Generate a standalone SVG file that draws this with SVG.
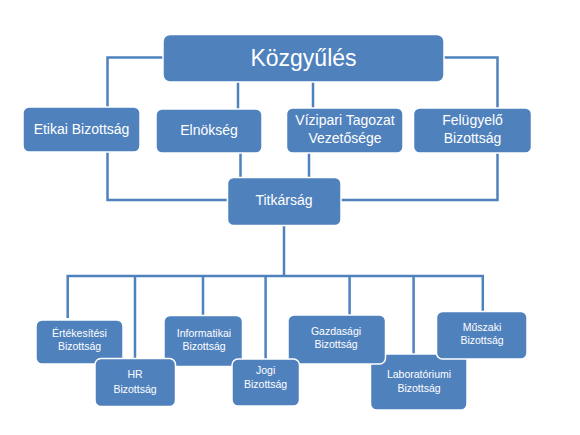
<svg xmlns="http://www.w3.org/2000/svg" width="580" height="435" viewBox="0 0 580 435">
<style>
.box{fill:#4F81BD;stroke:#FFFFFF;stroke-width:1.5}
.t{fill:#FFFFFF;font-family:"Liberation Sans",Arial,sans-serif;text-anchor:middle}
.big{font-size:23px}
.mid{font-size:14px}
.sm{font-size:10.5px}
.c{fill:none;stroke:#4F81BD;stroke-width:2.5}
</style>
<rect width="580" height="435" fill="#FFFFFF"/>
<g id="connectors">
<path class="c" d="M163,57.5 H107.5 V107"/>
<path class="c" d="M444,57.5 H497.5 V108"/>
<path class="c" d="M238,82 V109"/>
<path class="c" d="M313,82 V108"/>
<path class="c" d="M107.5,152 V200 H228"/>
<path class="c" d="M497.5,153 V200 H341"/>
<path class="c" d="M240.5,153 V178"/>
<path class="c" d="M309,153 V178"/>
<path class="c" d="M284,225 V276"/>
<path class="c" d="M67.7,318 V276 H482.8 V311"/>
<path class="c" d="M135,276 V359"/>
<path class="c" d="M203,276 V316"/>
<path class="c" d="M265.6,276 V359"/>
<path class="c" d="M349.6,276 V315"/>
<path class="c" d="M413.6,276 V355"/>
</g>
<g id="kozgyules"><rect class="box" x="163" y="34.5" width="281" height="47.5" rx="7"/><text class="t big" x="303.5" y="66">Közgyűlés</text></g>
<g id="etikai"><rect class="box" x="23" y="107" width="117" height="45" rx="6"/><text class="t mid" x="81.5" y="134">Etikai Bizottság</text></g>
<g id="elnokseg"><rect class="box" x="156" y="109" width="106" height="44" rx="6"/><text class="t mid" x="209" y="135">Elnökség</text></g>
<g id="vizipari"><rect class="box" x="286.5" y="108" width="116.5" height="45" rx="6"/><text class="t mid" x="345" y="125">Vízipari Tagozat</text><text class="t mid" x="345" y="143">Vezetősége</text></g>
<g id="felugyelo"><rect class="box" x="413.5" y="108" width="118" height="45" rx="6"/><text class="t mid" x="472.5" y="125">Felügyelő</text><text class="t mid" x="472.5" y="143">Bizottság</text></g>
<g id="titkarsag"><rect class="box" x="227.5" y="177.5" width="113.5" height="48" rx="6"/><text class="t mid" x="284" y="205">Titkárság</text></g>
<g id="ertekesitesi"><rect class="box" x="36" y="320" width="87" height="44" rx="6"/><text class="t sm" x="79.5" y="337">Értékesítési</text><text class="t sm" x="79.5" y="350">Bizottság</text></g>
<g id="informatikai"><rect class="box" x="164" y="315.5" width="78.5" height="51" rx="6"/><text class="t sm" x="204" y="337">Informatikai</text><text class="t sm" x="204" y="350">Bizottság</text></g>
<g id="hr"><rect class="box" x="95" y="358.5" width="80.5" height="48" rx="6"/><text class="t sm" x="135" y="378">HR</text><text class="t sm" x="135" y="392.5">Bizottság</text></g>
<g id="laboratoriumi"><rect class="box" x="370.5" y="354" width="96.5" height="56" rx="6"/><text class="t sm" x="419" y="378">Laboratóriumi</text><text class="t sm" x="419" y="391.5">Bizottság</text></g>
<g id="gazdasagi"><rect class="box" x="288" y="315" width="97.5" height="49" rx="6"/><text class="t sm" x="336" y="335">Gazdasági</text><text class="t sm" x="336" y="347.5">Bizottság</text></g>
<g id="jogi"><rect class="box" x="232" y="359" width="67.5" height="47" rx="6"/><text class="t sm" x="265.6" y="374">Jogi</text><text class="t sm" x="265.6" y="387.5">Bizottság</text></g>
<g id="muszaki"><rect class="box" x="436.5" y="311.5" width="90.5" height="47.5" rx="6"/><text class="t sm" x="482" y="331">Műszaki</text><text class="t sm" x="482" y="343.5">Bizottság</text></g>
</svg>
